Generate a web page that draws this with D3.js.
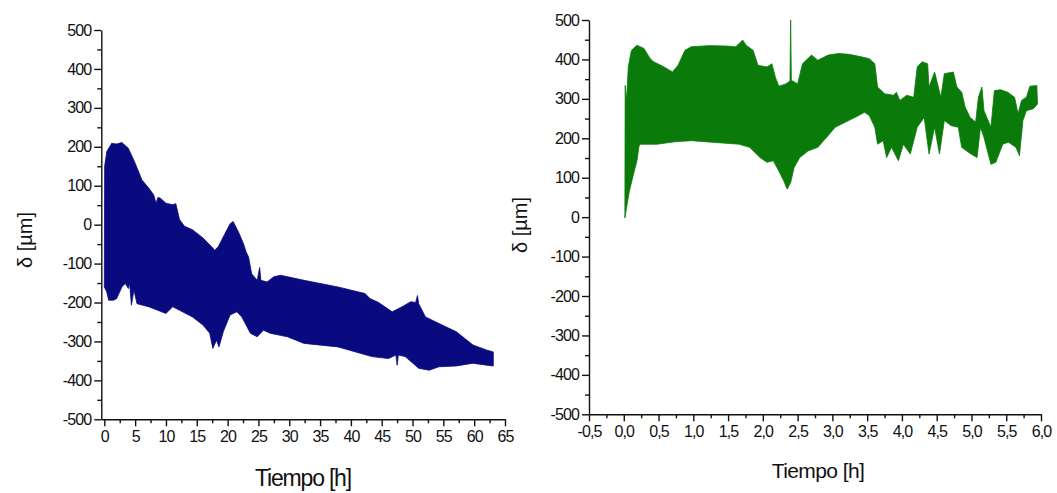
<!DOCTYPE html>
<html>
<head>
<meta charset="utf-8">
<script src="https://cdn.jsdelivr.net/npm/d3@7"></script>
<style>
  html, body { margin: 0; padding: 0; background: #fff; }
  svg { display: block; }
  .tick text { font-family: "Liberation Sans", Arial, sans-serif; font-size: 16px; letter-spacing: -0.9px; fill: #111; }
  .axis path, .axis line { stroke: #111; stroke-width: 1.4px; }
  .title { font-family: "Liberation Sans", Arial, sans-serif; fill: #111; }
</style>
</head>
<body>
<svg id="chart" width="1057" height="493"></svg>
<script>
// Displacement envelope, long run (hours vs µm): upper and lower edges of the oscillation band
const leftUpper = [
  [0.0, -160], [0.05, 150], [0.4, 188], [1.2, 209], [2.0, 207], [2.85, 211], [3.9, 196], [5.0, 158],
  [6.1, 115], [7.2, 94], [8.0, 77], [8.4, 55], [8.7, 70], [9.1, 68], [10.0, 55], [11.1, 51],
  [11.6, 54], [12.2, 13], [13.0, -4], [14.3, -13], [16.0, -34], [17.6, -60], [17.9, -66],
  [18.5, -56], [19.5, -25], [20.4, 2], [20.9, 8], [21.8, -20], [22.6, -50], [23.0, -70],
  [23.4, -83], [23.9, -126], [24.8, -143], [25.2, -110], [25.4, -143], [26.4, -147], [27.5, -134],
  [28.6, -130], [32.4, -143], [37.9, -160], [42.3, -177], [43.1, -190], [44.5, -200], [46.7, -224],
  [48.3, -211], [49.7, -198], [50.5, -200], [50.8, -182], [51.0, -203], [52.1, -237],
  [54.3, -254], [57.1, -275], [59.8, -309], [62.0, -322], [63.1, -327]
];
const leftLower = [
  [0.0, -160], [0.4, -173], [0.7, -194], [1.5, -194], [2.0, -190], [2.85, -160], [3.4, -151],
  [3.9, -164], [4.1, -150], [4.4, -207], [4.8, -168], [5.3, -203], [7.2, -211], [10.0, -228],
  [11.1, -211], [12.2, -220], [14.3, -237], [16.0, -258], [17.1, -279], [17.6, -318],
  [18.2, -297], [18.6, -314], [19.3, -275], [20.4, -232], [21.5, -224], [22.3, -237],
  [23.7, -279], [24.8, -288], [25.8, -271], [26.9, -279], [29.7, -288], [32.4, -305],
  [37.9, -314], [43.4, -339], [46.1, -344], [47.3, -335], [47.5, -361], [47.7, -335],
  [48.8, -339], [51.0, -369], [52.7, -374], [54.3, -365], [57.1, -363], [59.8, -356],
  [62.0, -361], [63.1, -363]
];

// Displacement envelope, short run (hours vs µm)
const rightUpper = [
  [0.016, -2], [0.02, 334], [0.04, 296], [0.065, 381], [0.11, 423], [0.19, 436], [0.29, 428],
  [0.38, 402], [0.43, 394], [0.58, 381], [0.70, 368], [0.78, 385], [0.88, 423], [0.97, 432],
  [1.22, 435], [1.47, 434], [1.61, 432], [1.71, 449], [1.76, 436], [1.86, 423], [1.93, 385],
  [2.06, 381], [2.13, 389], [2.18, 355], [2.23, 332], [2.33, 338], [2.39, 345], [2.40, 500],
  [2.41, 347], [2.50, 338], [2.57, 389], [2.70, 411], [2.79, 398], [2.94, 411], [3.09, 415],
  [3.24, 413], [3.43, 406], [3.53, 402], [3.61, 389], [3.65, 330], [3.75, 313], [3.88, 309],
  [3.92, 317], [3.97, 296], [4.07, 309], [4.17, 304], [4.22, 381], [4.29, 394], [4.37, 389],
  [4.39, 330], [4.47, 368], [4.56, 304], [4.61, 364], [4.74, 368], [4.79, 330], [4.86, 317],
  [4.91, 279], [4.98, 253], [5.06, 241], [5.10, 304], [5.15, 330], [5.18, 270], [5.28, 228],
  [5.33, 321], [5.42, 323], [5.52, 317], [5.62, 304], [5.67, 262], [5.72, 296], [5.79, 304],
  [5.84, 332], [5.94, 334], [5.95, 287]
];
const rightLower = [
  [0.016, -2], [0.04, 24], [0.08, 66], [0.14, 109], [0.19, 143], [0.22, 181], [0.24, 185],
  [0.48, 185], [0.73, 191], [0.97, 194], [1.27, 190], [1.66, 185], [1.81, 177], [1.96, 151],
  [2.06, 139], [2.15, 143], [2.23, 117], [2.30, 92], [2.35, 71], [2.40, 88], [2.45, 126],
  [2.53, 151], [2.65, 168], [2.79, 177], [2.94, 207], [3.04, 228], [3.19, 241], [3.38, 258],
  [3.46, 266], [3.53, 258], [3.61, 228], [3.65, 185], [3.73, 194], [3.78, 151], [3.85, 177],
  [3.95, 143], [4.02, 185], [4.12, 160], [4.22, 228], [4.32, 253], [4.39, 160], [4.47, 228],
  [4.54, 160], [4.61, 245], [4.71, 232], [4.81, 228], [4.86, 177], [4.96, 164], [5.08, 151],
  [5.13, 228], [5.18, 202], [5.28, 134], [5.35, 139], [5.45, 185], [5.53, 190], [5.64, 177],
  [5.69, 156], [5.74, 245], [5.79, 270], [5.89, 275], [5.95, 287]
];

// Axis ticks
const yMajor = [-500, -400, -300, -200, -100, 0, 100, 200, 300, 400, 500];
const yMinor = [-450, -350, -250, -150, -50, 50, 150, 250, 350, 450];
const leftXMajor = [0, 5, 10, 15, 20, 25, 30, 35, 40, 45, 50, 55, 60, 65];
const leftXMinor = [2.5, 7.5, 12.5, 17.5, 22.5, 27.5, 32.5, 37.5, 42.5, 47.5, 52.5, 57.5, 62.5];
const rightXMajor = [-0.5, 0, 0.5, 1, 1.5, 2, 2.5, 3, 3.5, 4, 4.5, 5, 5.5, 6];
const rightXMinor = [-0.25, 0.25, 0.75, 1.25, 1.75, 2.25, 2.75, 3.25, 3.75, 4.25, 4.75, 5.25, 5.75];

const xLabel = "Tiempo [h]";
const yLabel = "δ [µm]";

// Spanish-style number labels: plain hyphen minus and decimal comma
const locale = d3.formatLocale({ decimal: ",", thousands: ".", grouping: [3], currency: ["", ""], minus: "-" });
const intFmt = locale.format("d");
const commaFmt = locale.format(".1f");

const svg = d3.select("#chart");

function panel(opts) {
  const x = d3.scaleLinear().domain(opts.xDomain).range(opts.xRange);
  const y = d3.scaleLinear().domain([-500, 500]).range(opts.yRange);
  const g = svg.append("g");

  // band polygon: upper edge left-to-right, then lower edge back
  const poly = opts.upper.concat(opts.lower.slice().reverse());
  g.append("path")
    .attr("d", d3.line().x(d => x(d[0])).y(d => y(d[1]))(poly) + "Z")
    .attr("fill", opts.color)
    .attr("stroke", opts.color)
    .attr("stroke-width", 0.8)
    .attr("stroke-linejoin", "round");

  const y0 = opts.yRange[0];
  const x0 = opts.xRange[0];

  // minor ticks
  g.append("g").attr("class", "axis").attr("transform", `translate(0,${y0})`)
    .call(d3.axisBottom(x).tickValues(opts.xMinor).tickSize(4).tickFormat(""))
    .call(a => a.select(".domain").remove());
  g.append("g").attr("class", "axis").attr("transform", `translate(${x0},0)`)
    .call(d3.axisLeft(y).tickValues(yMinor).tickSize(4).tickFormat(""))
    .call(a => a.select(".domain").remove());

  // major ticks with labels
  g.append("g").attr("class", "axis").attr("transform", `translate(0,${y0})`)
    .call(d3.axisBottom(x).tickValues(opts.xMajor).tickSizeInner(7).tickSizeOuter(0)
      .tickPadding(4).tickFormat(opts.xFormat));
  g.append("g").attr("class", "axis").attr("transform", `translate(${x0},0)`)
    .call(d3.axisLeft(y).tickValues(yMajor).tickSizeInner(7).tickSizeOuter(0)
      .tickPadding(3).tickFormat(intFmt));

  g.append("text").attr("class", "title")
    .attr("x", opts.xTitle[0]).attr("y", opts.xTitle[1])
    .attr("text-anchor", "middle")
    .style("font-size", opts.xTitleSize + "px")
    .style("letter-spacing", opts.xTitleSpacing + "px")
    .text(xLabel);

  g.append("text").attr("class", "title")
    .attr("transform", `translate(${opts.yTitle[0]},${opts.yTitle[1]}) rotate(-90)`)
    .attr("text-anchor", "middle")
    .style("font-size", "20px")
    .text(yLabel);
}

panel({
  xDomain: [-0.49, 65], xRange: [101.3, 505], yRange: [419.3, 30],
  upper: leftUpper, lower: leftLower, color: "#0a0a80",
  xMajor: leftXMajor, xMinor: leftXMinor, xFormat: intFmt,
  xTitle: [303, 486], xTitleSize: 23, xTitleSpacing: -1.2,
  yTitle: [32, 240]
});

panel({
  xDomain: [-0.5, 6.0], xRange: [589, 1041], yRange: [414.3, 20],
  upper: rightUpper, lower: rightLower, color: "#0a7a0a",
  xMajor: rightXMajor, xMinor: rightXMinor, xFormat: commaFmt,
  xTitle: [818, 478], xTitleSize: 21, xTitleSpacing: -0.6,
  yTitle: [527, 225]
});
</script>
</body>
</html>
